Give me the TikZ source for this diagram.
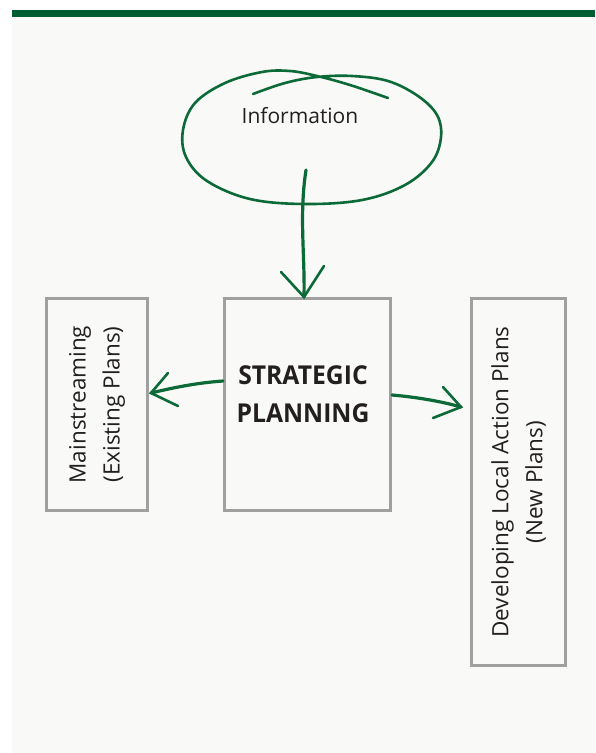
\documentclass[tikz,border=0pt]{standalone}
\usepackage{fontspec}
\setmainfont{Open Sans}
\newfontfamily\spfont[FakeStretch=0.95]{Open Sans}
\usetikzlibrary{calc}
\definecolor{bargreen}{HTML}{005E32}
\definecolor{arrowgreen}{HTML}{0B6A37}
\definecolor{boxgray}{HTML}{A0A0A0}
\definecolor{panel}{HTML}{F9F9F7}
\definecolor{ink}{HTML}{231F20}
\tikzset{
  box/.style={draw=boxgray, line width=2.7pt, inner sep=0pt, rectangle, text=ink},
  sidelabel/.style={box, rotate=90, align=center, font=\fontsize{22.5pt}{34pt}\selectfont},
  brush/.style={draw=arrowgreen, line width=3.2pt, line cap=round},
  wing/.style={draw=arrowgreen, line width=2.6pt, line cap=round, line join=miter},
  loop/.style={draw=arrowgreen, line width=2.6pt, line cap=round}
}
\begin{document}
\begin{tikzpicture}[x=1pt,y=-1pt]
\useasboundingbox (0,0) rectangle (595,753);
\fill[white] (0,0) rectangle (595,753);
\fill[panel] (12,17) rectangle (595,753);
\fill[bargreen] (12,10) rectangle (595,17);

% Information
\node[anchor=base, inner sep=0pt, text=ink, font=\fontsize{21pt}{25pt}\selectfont] (info) at (300,123) {Information};
\draw[loop] plot[smooth, tension=0.6] coordinates {
  (253,94) (285,83) (317,77) (352,76) (388,81) (418,96) (437,115) (441,137)
  (432,162) (405,185) (362,200) (305,204) (250,199) (207,181) (186,157)
  (183,130) (195,103) (225,83) (262,72) (290,71) (317,76) (350,85) (388,98)};

% boxes
\node[box, minimum width=166.3pt, minimum height=212.3pt] (sp) at (307.5,404.5)
  {\begin{minipage}[c][212.3pt][t]{166.3pt}\centering\spfont\bfseries\fontsize{26pt}{38pt}\selectfont
   \rule{0pt}{85.65pt}\hspace*{-9pt}STRATEGIC\\\hspace*{-9pt}PLANNING\end{minipage}};
\node[sidelabel, minimum width=212.3pt, minimum height=101.3pt] (ms) at (97,404.5)
  {Mainstreaming\\(Existing Plans)};
\node[sidelabel, minimum width=367.3pt, minimum height=94.3pt] (dl) at (518.5,482)
  {Developing Local Action Plans\\(New Plans)};

% connectors
\coordinate (infoout) at (306,170);
\coordinate (tipd) at ([xshift=-3.5pt]sp.north);
\draw[brush] (infoout) .. controls (299,215) and (305,255) .. (tipd);
\draw[wing] ($(tipd)+(-23,-25)$) -- (tipd) -- ($(tipd)+(20,-31)$);

\coordinate (tipl) at ([xshift=2pt,yshift=11.5pt]ms.south);
\draw[brush] ([yshift=23.5pt]sp.west) .. controls (195,383) and (172,388) .. (tipl);
\draw[wing] ($(tipl)+(17,-20)$) -- (tipl) -- ($(tipl)+(27,13)$);

\coordinate (tipr) at ([xshift=-9pt,yshift=75pt]dl.north);
\draw[brush] ([yshift=9.5pt]sp.east) .. controls (415,397) and (440,401) .. (tipr);
\draw[wing] ($(tipr)+(-18,-20)$) -- (tipr) -- ($(tipr)+(-28,11)$);
\end{tikzpicture}
\end{document}
